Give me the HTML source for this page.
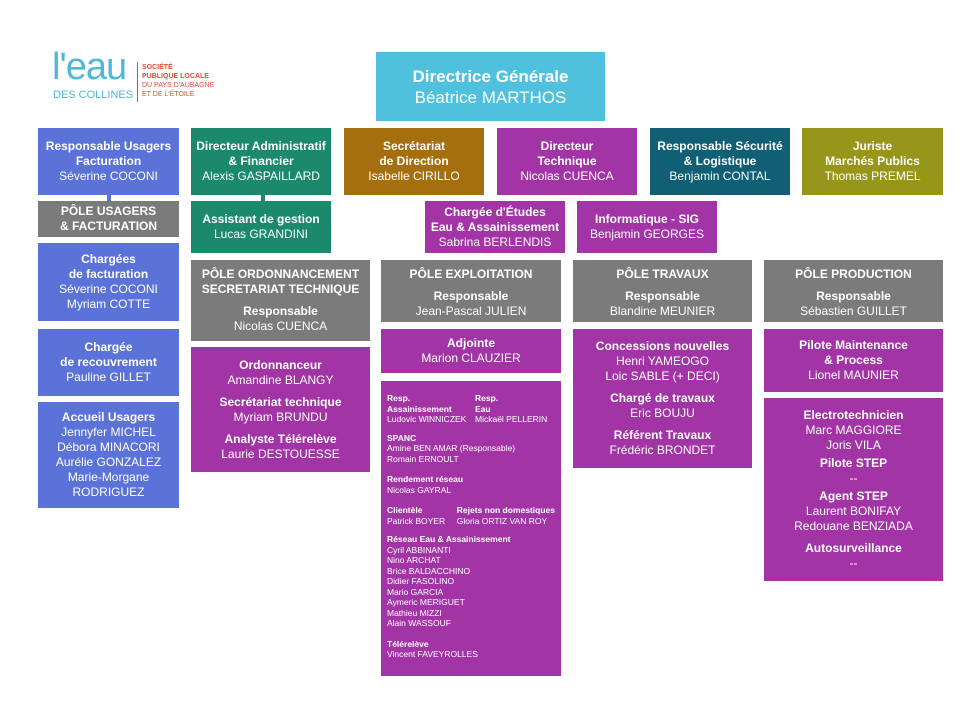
<!DOCTYPE html>
<html><head><meta charset="utf-8"><style>
body{margin:0;width:980px;height:701px;background:#fff;position:relative;overflow:hidden;font-family:"Liberation Sans",sans-serif;}
.b{position:absolute;color:#fff;text-align:center;box-sizing:border-box;font-size:12px;line-height:15px;display:flex;flex-direction:column;justify-content:center;}
.t{font-weight:bold;}
.bl{background:#5b72d9}.gr{background:#1b8a6c}.br{background:#a56f10}.pu{background:#a234a6}.te{background:#105f74}.ol{background:#97961a}.gy{background:#7b7b7b}
.sm{font-size:8.5px;line-height:10.5px;text-align:left;justify-content:flex-start;padding:12px 6px;white-space:nowrap}
.sm b{display:block}
.row{display:flex}
.g{height:7px}
</style></head><body>
<div style="position:absolute;left:52px;top:48px;color:#4fb8d8;font-size:38px;line-height:38px;letter-spacing:-1px">l'eau</div>
<div style="position:absolute;left:53px;top:89px;color:#4fb8d8;font-size:11px">DES COLLINES</div>
<div style="position:absolute;left:137px;top:62px;width:1px;height:40px;background:#e04a3a"></div>
<div style="position:absolute;left:142px;top:63px;color:#e04a3a;font-size:7px;line-height:9px"><b>SOCIÉTÉ<br>PUBLIQUE LOCALE</b><br>DU PAYS D'AUBAGNE<br>ET DE L'ÉTOILE</div>

<div class="b" style="left:376px;top:52px;width:229px;height:69px;background:#4fc0de;font-size:17px;line-height:21px"><span class="t">Directrice Générale</span><span>Béatrice MARTHOS</span></div>

<div class="b bl" style="left:38px;top:128px;width:141px;height:67px"><span class="t">Responsable Usagers<br>Facturation</span>Séverine COCONI</div>
<div class="b gr" style="left:191px;top:128px;width:140px;height:67px"><span class="t">Directeur Administratif<br>&amp; Financier</span>Alexis GASPAILLARD</div>
<div class="b br" style="left:344px;top:128px;width:140px;height:67px"><span class="t">Secrétariat<br>de Direction</span>Isabelle CIRILLO</div>
<div class="b pu" style="left:497px;top:128px;width:140px;height:67px"><span class="t">Directeur<br>Technique</span>Nicolas CUENCA</div>
<div class="b te" style="left:650px;top:128px;width:140px;height:67px"><span class="t">Responsable Sécurité<br>&amp; Logistique</span>Benjamin CONTAL</div>
<div class="b ol" style="left:802px;top:128px;width:141px;height:67px"><span class="t">Juriste<br>Marchés Publics</span>Thomas PREMEL</div>

<div style="position:absolute;left:107px;top:195px;width:4px;height:6px;background:#5b72d9"></div>
<div style="position:absolute;left:261px;top:195px;width:4px;height:6px;background:#1b8a6c"></div>
<div class="b gy t" style="left:38px;top:201px;width:141px;height:36px">PÔLE USAGERS<br>&amp; FACTURATION</div>
<div class="b gr" style="left:191px;top:201px;width:140px;height:52px"><span class="t">Assistant de gestion</span>Lucas GRANDINI</div>
<div class="b pu" style="left:425px;top:201px;width:140px;height:52px"><span class="t">Chargée d'Études<br>Eau &amp; Assainissement</span>Sabrina BERLENDIS</div>
<div class="b pu" style="left:577px;top:201px;width:140px;height:52px"><span class="t">Informatique - SIG</span>Benjamin GEORGES</div>

<div class="b bl" style="left:38px;top:243px;width:141px;height:78px"><span class="t">Chargées<br>de facturation</span>Séverine COCONI<br>Myriam COTTE</div>
<div class="b bl" style="left:38px;top:329px;width:141px;height:67px"><span class="t">Chargée<br>de recouvrement</span>Pauline GILLET</div>
<div class="b bl" style="left:38px;top:402px;width:141px;height:106px"><span class="t">Accueil Usagers</span>Jennyfer MICHEL<br>Débora MINACORI<br>Aurélie GONZALEZ<br>Marie-Morgane<br>RODRIGUEZ</div>

<div class="b gy" style="left:191px;top:260px;width:179px;height:81px"><span class="t">PÔLE ORDONNANCEMENT<br>SECRETARIAT TECHNIQUE</span><div class="g"></div><span class="t">Responsable</span>Nicolas CUENCA</div>
<div class="b gy" style="left:381px;top:260px;width:180px;height:62px;padding-top:4px"><span class="t">PÔLE EXPLOITATION</span><div class="g"></div><span class="t">Responsable</span>Jean-Pascal JULIEN</div>
<div class="b gy" style="left:573px;top:260px;width:179px;height:62px;padding-top:4px"><span class="t">PÔLE TRAVAUX</span><div class="g"></div><span class="t">Responsable</span>Blandine MEUNIER</div>
<div class="b gy" style="left:764px;top:260px;width:179px;height:62px;padding-top:4px"><span class="t">PÔLE PRODUCTION</span><div class="g"></div><span class="t">Responsable</span>Sébastien GUILLET</div>

<div class="b pu" style="left:191px;top:347px;width:179px;height:125px"><span class="t">Ordonnanceur</span>Amandine BLANGY<div class="g"></div><span class="t">Secrétariat technique</span>Myriam BRUNDU<div class="g"></div><span class="t">Analyste Télérelève</span>Laurie DESTOUESSE</div>
<div class="b pu" style="left:381px;top:329px;width:180px;height:44px"><span class="t">Adjointe</span>Marion CLAUZIER</div>
<div class="b pu sm" style="left:381px;top:381px;width:180px;height:295px">
<div class="row"><div style="width:88px"><b>Resp.<br>Assainissement</b>Ludovic WINNICZEK</div><div><b>Resp.<br>Eau</b>Mickaël PELLERIN</div></div>
<div style="height:8px"></div><b>SPANC</b>Amine BEN AMAR (Responsable)<br>Romain ERNOULT
<div style="height:10px"></div><b>Rendement réseau</b>Nicolas GAYRAL
<div style="height:10px"></div><div class="row"><div style="width:72px"><b>Clientèle</b>Patrick BOYER</div><div><b>Rejets non domestiques</b>Gloria ORTIZ VAN ROY</div></div>
<div style="height:8px"></div><b>Réseau Eau &amp; Assainissement</b>Cyril ABBINANTI<br>Nino ARCHAT<br>Brice BALDACCHINO<br>Didier FASOLINO<br>Mario GARCIA<br>Aymeric MERIGUET<br>Mathieu MIZZI<br>Alain WASSOUF
<div style="height:10px"></div><b>Télérelève</b>Vincent FAVEYROLLES</div>

<div class="b pu" style="left:573px;top:329px;width:179px;height:139px"><span class="t">Concessions nouvelles</span>Henri YAMEOGO<br>Loic SABLE (+ DECI)<div class="g"></div><span class="t">Chargé de travaux</span>Eric BOUJU<div class="g"></div><span class="t">Référent Travaux</span>Frédéric BRONDET</div>
<div class="b pu" style="left:764px;top:329px;width:179px;height:63px"><span class="t">Pilote Maintenance<br>&amp; Process</span>Lionel MAUNIER</div>
<div class="b pu" style="left:764px;top:398px;width:179px;height:183px"><span class="t">Electrotechnicien</span>Marc MAGGIORE<br>Joris VILA<div style="height:3px"></div><span class="t">Pilote STEP</span>--<div style="height:3px"></div><span class="t">Agent STEP</span>Laurent BONIFAY<br>Redouane BENZIADA<div style="height:7px"></div><span class="t">Autosurveillance</span>--</div>
</body></html>
